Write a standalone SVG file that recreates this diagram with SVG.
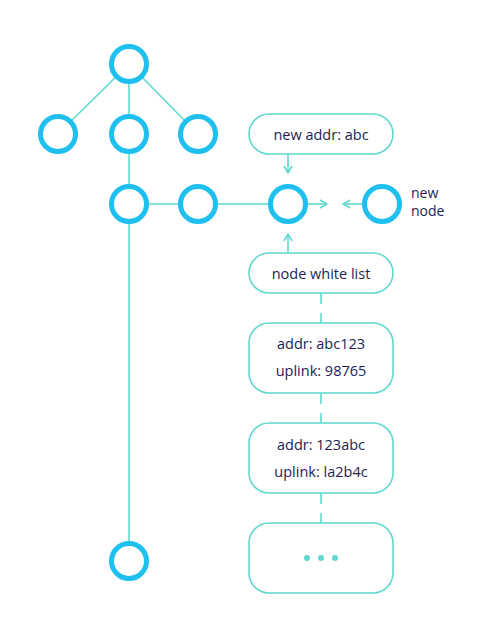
<svg xmlns="http://www.w3.org/2000/svg" width="482" height="637" viewBox="0 0 482 637">
<defs>
<style>
.node{fill:#fff;stroke:#1fc0ef;stroke-width:5}
.ln{fill:none;stroke:#5fd9cd;stroke-width:1.6}
.box{fill:#fff;stroke:#5fd9cd;stroke-width:1.6}
.t{font-family:"Open Sans","Liberation Sans",sans-serif;font-size:14.5px;fill:#221e55;text-anchor:middle}
.s{font-family:"Open Sans","Liberation Sans",sans-serif;font-size:14px;fill:#221e55}
.dot{fill:#5fd9cd}
</style>
<marker id="ah" viewBox="0 0 10 10" refX="9" refY="5" markerWidth="10" markerHeight="10" markerUnits="userSpaceOnUse" orient="auto">
<path d="M2,1 L9,5 L2,9" fill="none" stroke="#5fd9cd" stroke-width="1.6"/>
</marker>
</defs>
<rect width="482" height="637" fill="#fff"/>
<g id="connectors">
<line class="ln" x1="129" y1="64" x2="58" y2="134"/>
<line class="ln" x1="129" y1="64" x2="198" y2="134"/>
<line class="ln" x1="129" y1="64" x2="129" y2="204"/>
<line class="ln" x1="129" y1="204" x2="288" y2="204"/>
<line class="ln" x1="129" y1="204" x2="129" y2="561"/>
<line class="ln" x1="307" y1="204" x2="327" y2="204" marker-end="url(#ah)"/>
<line class="ln" x1="362" y1="204" x2="343" y2="204" marker-end="url(#ah)"/>
<line class="ln" x1="288" y1="154" x2="288" y2="173" marker-end="url(#ah)"/>
<line class="ln" x1="288" y1="253" x2="288" y2="234" marker-end="url(#ah)"/>
<line class="ln" x1="321" y1="293" x2="321" y2="304"/>
<line class="ln" x1="321" y1="313" x2="321" y2="323"/>
<line class="ln" x1="321" y1="393" x2="321" y2="404"/>
<line class="ln" x1="321" y1="413" x2="321" y2="423"/>
<line class="ln" x1="321" y1="493" x2="321" y2="504"/>
<line class="ln" x1="321" y1="513" x2="321" y2="523"/>
</g>
<g id="root"><circle class="node" cx="129" cy="64" r="17.5"/></g>
<g id="c1"><circle class="node" cx="58" cy="134" r="17.5"/></g>
<g id="c2"><circle class="node" cx="129" cy="134" r="17.5"/></g>
<g id="c3"><circle class="node" cx="198" cy="134" r="17.5"/></g>
<g id="d1"><circle class="node" cx="129" cy="204" r="17.5"/></g>
<g id="d2"><circle class="node" cx="198" cy="204" r="17.5"/></g>
<g id="d3"><circle class="node" cx="288" cy="204" r="17.5"/></g>
<g id="bottom"><circle class="node" cx="129" cy="561" r="17.5"/></g>
<g id="newnode">
<circle class="node" cx="382" cy="204" r="17.5"/>
<text class="s" x="411" y="198">new</text>
<text class="s" x="411" y="216">node</text>
</g>
<g id="newaddr">
<rect class="box" x="249" y="114" width="144" height="40" rx="20"/>
<text class="t" x="321" y="140">new addr: abc</text>
</g>
<g id="whitelist">
<rect class="box" x="249" y="253" width="144" height="40" rx="20"/>
<text class="t" x="321" y="279">node white list</text>
</g>
<g id="entry1">
<rect class="box" x="249" y="323" width="144" height="70" rx="20"/>
<text class="t" x="321" y="349">addr: abc123</text>
<text class="t" x="321" y="376">uplink: 98765</text>
</g>
<g id="entry2">
<rect class="box" x="249" y="423" width="144" height="70" rx="20"/>
<text class="t" x="321" y="450">addr: 123abc</text>
<text class="t" x="321" y="477">uplink: la2b4c</text>
</g>
<g id="entry3">
<rect class="box" x="249" y="523" width="144" height="70" rx="20"/>
<circle class="dot" cx="307" cy="558" r="3"/>
<circle class="dot" cx="321" cy="558" r="3"/>
<circle class="dot" cx="335" cy="558" r="3"/>
</g>
</svg>
